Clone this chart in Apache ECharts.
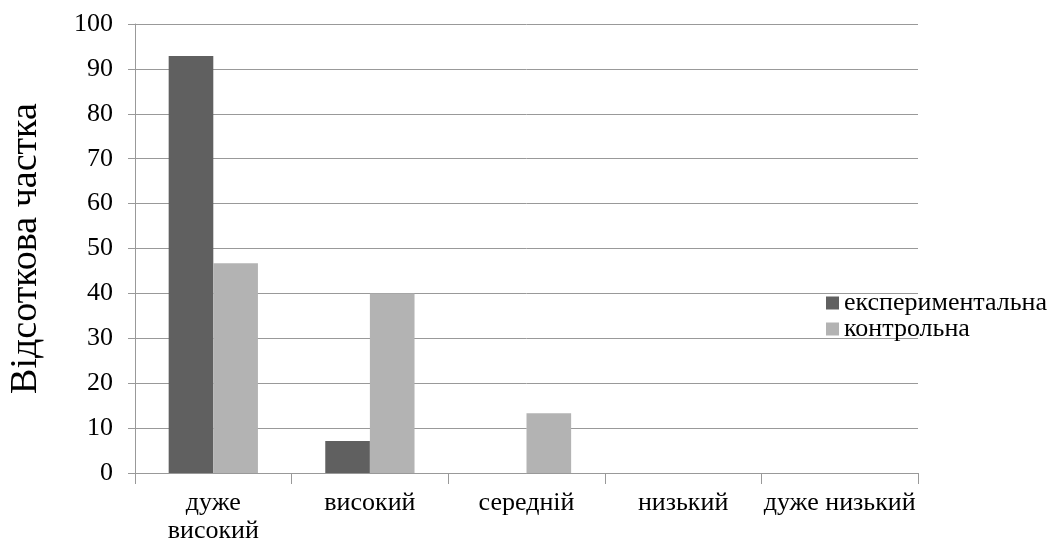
<!DOCTYPE html>
<html><head><meta charset="utf-8">
<script src="https://cdn.jsdelivr.net/npm/echarts@6/dist/echarts.min.js"></script>
<style>html,body{margin:0;padding:0;background:#fff}#c{width:1055px;height:545px}</style>
</head><body><div id="c"></div>
<script>
var categories = ['дуже\nвисокий', 'високий', 'середній', 'низький', 'дуже низький'];
var experimental = [92.9, 7.1, 0, 0, 0];
var control = [46.7, 40, 13.3, 0, 0];
var seriesNames = ['експериментальна', 'контрольна'];
var yTitle = 'Відсоткова частка';

var font = '"Liberation Serif", "Times New Roman", serif';
var chart = echarts.init(document.getElementById('c'));
chart.setOption({
  animation: false,
  textStyle: {fontFamily: font},
  grid: {left: 135, right: 137, top: 24, bottom: 72, outerBoundsMode: 'none', containLabel: false},
  legend: {
    orient: 'vertical', left: 826, top: 290,
    itemWidth: 13, itemHeight: 13, itemGap: 0, padding: 0,
    icon: 'rect',
    textStyle: {fontFamily: font, fontSize: 26, color: '#000', lineHeight: 25},
    data: seriesNames
  },
  xAxis: {
    type: 'category', data: categories,
    axisLine: {lineStyle: {color: '#999', width: 1}},
    axisTick: {show: true, alignWithLabel: false, length: 11, lineStyle: {color: '#999'}},
    axisLabel: {fontFamily: font, fontSize: 26, color: '#000', margin: 16, lineHeight: 28, interval: 0}
  },
  yAxis: {
    type: 'value', min: 0, max: 100, interval: 10,
    name: yTitle, nameLocation: 'middle', nameRotate: 90, nameGap: 90,
    nameTextStyle: {fontFamily: font, fontSize: 38, color: '#000'},
    axisLine: {show: true, lineStyle: {color: '#999'}},
    axisTick: {show: true, length: 7, inside: false, lineStyle: {color: '#999'}},
    splitLine: {lineStyle: {color: '#999'}},
    axisLabel: {fontFamily: font, fontSize: 26, color: '#000', margin: 22}
  },
  series: [
    {name: seriesNames[0], type: 'bar', data: experimental, barGap: '0%', barCategoryGap: '43%',
     itemStyle: {color: '#606060'}},
    {name: seriesNames[1], type: 'bar', data: control, barGap: '0%', barCategoryGap: '43%',
     itemStyle: {color: '#b3b3b3'}}
  ]
});
</script></body></html>
